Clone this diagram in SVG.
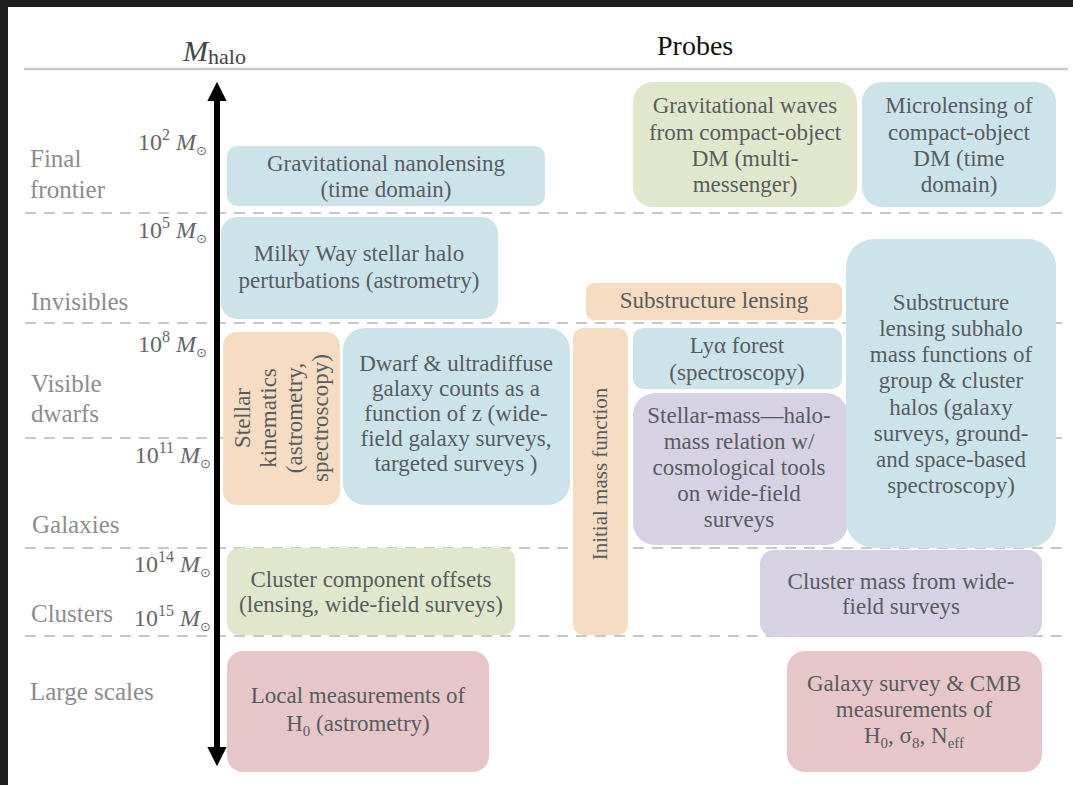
<svg xmlns="http://www.w3.org/2000/svg" width="1073" height="785" viewBox="0 0 1073 785" font-family="Liberation Serif, serif">
<defs>
<style>
.bt{font-size:23px;fill:#575d5f;text-anchor:middle}
.lab{font-size:25px;fill:#8c8c8c}
.ms{font-size:24px;fill:#666;text-anchor:end}
.sup{font-size:16px}
.sun{font-size:13px}
.dash{stroke:#c8c8c8;stroke-width:2;stroke-dasharray:11 8;fill:none}
.blue{fill:#cde3ea}
.orange{fill:#f5dcc3}
.green{fill:#e1e7cc}
.purple{fill:#d7d1e4}
.pink{fill:#e6c6c9}
</style>
<marker id="ah" viewBox="0 0 10 10" refX="0" refY="5" markerWidth="3.2" markerHeight="3.2" orient="auto-start-reverse" markerUnits="strokeWidth">
<path d="M0,0 L10,5 L0,10 z" fill="#000"/>
</marker>
</defs>
<rect x="0" y="0" width="1073" height="785" fill="#fff"/>
<rect x="0" y="0" width="1073" height="7" fill="#1f1f1f"/>
<rect x="0" y="0" width="8" height="785" fill="#1f1f1f"/>

<g id="header">
<text x="183" y="61" font-size="30" font-style="italic" fill="#444">M<tspan font-style="normal" font-size="22" dy="3">halo</tspan></text>
<text x="657" y="55" font-size="28" fill="#111">Probes</text>
<line x1="24" y1="69" x2="1068" y2="69" stroke="#c8c8c8" stroke-width="2.5"/>
</g>

<g id="gridlines">
<line class="dash" x1="25" y1="213" x2="1068" y2="213"/>
<line class="dash" x1="25" y1="323" x2="1068" y2="323"/>
<line class="dash" x1="25" y1="438" x2="1068" y2="438"/>
<line class="dash" x1="25" y1="548" x2="1068" y2="548"/>
<line class="dash" x1="25" y1="636" x2="1068" y2="636"/>
</g>

<g id="scale-labels">
<text class="lab" x="30" y="167">Final</text>
<text class="lab" x="30" y="198">frontier</text>
<text class="lab" x="31" y="310">Invisibles</text>
<text class="lab" x="31" y="392">Visible</text>
<text class="lab" x="31" y="422">dwarfs</text>
<text class="lab" x="32" y="533">Galaxies</text>
<text class="lab" x="31" y="622">Clusters</text>
<text class="lab" x="30" y="700">Large scales</text>
</g>

<g id="mass-labels">
<text class="ms" x="207" y="150">10<tspan class="sup" dy="-10">2</tspan><tspan dy="10"> </tspan><tspan font-style="italic">M</tspan><tspan class="sun" font-family="DejaVu Sans, sans-serif" dy="5">⊙</tspan></text>
<text class="ms" x="207" y="238">10<tspan class="sup" dy="-10">5</tspan><tspan dy="10"> </tspan><tspan font-style="italic">M</tspan><tspan class="sun" font-family="DejaVu Sans, sans-serif" dy="5">⊙</tspan></text>
<text class="ms" x="207" y="352">10<tspan class="sup" dy="-10">8</tspan><tspan dy="10"> </tspan><tspan font-style="italic">M</tspan><tspan class="sun" font-family="DejaVu Sans, sans-serif" dy="5">⊙</tspan></text>
<text class="ms" x="211" y="463">10<tspan class="sup" dy="-10">11</tspan><tspan dy="10"> </tspan><tspan font-style="italic">M</tspan><tspan class="sun" font-family="DejaVu Sans, sans-serif" dy="5">⊙</tspan></text>
<text class="ms" x="211" y="572">10<tspan class="sup" dy="-10">14</tspan><tspan dy="10"> </tspan><tspan font-style="italic">M</tspan><tspan class="sun" font-family="DejaVu Sans, sans-serif" dy="5">⊙</tspan></text>
<text class="ms" x="211" y="626">10<tspan class="sup" dy="-10">15</tspan><tspan dy="10"> </tspan><tspan font-style="italic">M</tspan><tspan class="sun" font-family="DejaVu Sans, sans-serif" dy="5">⊙</tspan></text>
</g>

<g id="connectors">
<line x1="217" y1="101" x2="217" y2="747" stroke="#000" stroke-width="6" marker-start="url(#ah)" marker-end="url(#ah)"/>
</g>

<g id="boxes">
<g id="nanolensing">
<rect class="blue" x="227" y="146" width="318" height="60" rx="10"/>
<text class="bt"><tspan x="386" y="171">Gravitational nanolensing</tspan><tspan x="386" y="197">(time domain)</tspan></text>
</g>

<g id="milkyway">
<rect class="blue" x="221" y="217" width="277" height="102" rx="16"/>
<text class="bt"><tspan x="359" y="261">Milky Way stellar halo</tspan><tspan x="359" y="288">perturbations (astrometry)</tspan></text>
</g>

<g id="stellar-kinematics">
<rect class="orange" x="223" y="332" width="117" height="173" rx="14"/>
<text class="bt" transform="translate(281,418) rotate(-90)"><tspan x="0" y="-31">Stellar</tspan><tspan x="0" y="-5">kinematics</tspan><tspan x="0" y="21">(astrometry,</tspan><tspan x="0" y="47">spectroscopy)</tspan></text>
</g>

<g id="dwarf">
<rect class="blue" x="343" y="328" width="227" height="177" rx="22"/>
<text class="bt"><tspan x="456" y="371">Dwarf &amp; ultradiffuse</tspan><tspan x="456" y="396">galaxy counts as a</tspan><tspan x="456" y="421">function of z (wide-</tspan><tspan x="456" y="446">field galaxy surveys,</tspan><tspan x="456" y="471">targeted surveys )</tspan></text>
</g>

<g id="substructure-lensing">
<rect class="orange" x="586" y="283" width="256" height="37" rx="8"/>
<text class="bt" x="714" y="308">Substructure lensing</text>
</g>

<g id="imf">
<rect class="orange" x="573" y="328" width="55" height="307" rx="10"/>
<text class="bt" style="font-size:21px" transform="translate(600,474) rotate(-90)" x="0" y="7">Initial mass function</text>
</g>

<g id="lya">
<rect class="blue" x="633" y="328" width="209" height="61" rx="10"/>
<text class="bt"><tspan x="737" y="353">Lyα forest</tspan><tspan x="737" y="380">(spectroscopy)</tspan></text>
</g>

<g id="smhm">
<rect class="purple" x="633" y="393" width="215" height="152" rx="22"/>
<text class="bt"><tspan x="739" y="423">Stellar-mass—halo-</tspan><tspan x="739" y="449">mass relation w/</tspan><tspan x="739" y="475">cosmological tools</tspan><tspan x="739" y="501">on wide-field</tspan><tspan x="739" y="527">surveys</tspan></text>
</g>

<g id="subhalo">
<rect class="blue" x="846" y="239" width="210" height="309" rx="28"/>
<text class="bt"><tspan x="951" y="310">Substructure</tspan><tspan x="951" y="336">lensing subhalo</tspan><tspan x="951" y="362">mass functions of</tspan><tspan x="951" y="388">group &amp; cluster</tspan><tspan x="951" y="415">halos (galaxy</tspan><tspan x="951" y="441">surveys, ground-</tspan><tspan x="951" y="467">and space-based</tspan><tspan x="951" y="493">spectroscopy)</tspan></text>
</g>

<g id="gw">
<rect class="green" x="633" y="82" width="224" height="125" rx="20"/>
<text class="bt"><tspan x="745" y="113">Gravitational waves</tspan><tspan x="745" y="140">from compact-object</tspan><tspan x="745" y="166">DM (multi-</tspan><tspan x="745" y="192">messenger)</tspan></text>
</g>

<g id="microlensing">
<rect class="blue" x="862" y="82" width="194" height="125" rx="20"/>
<text class="bt"><tspan x="959" y="113">Microlensing of</tspan><tspan x="959" y="140">compact-object</tspan><tspan x="959" y="166">DM (time</tspan><tspan x="959" y="192">domain)</tspan></text>
</g>

<g id="cluster-offsets">
<rect class="green" x="227" y="548" width="288" height="87" rx="12"/>
<text class="bt"><tspan x="371" y="587">Cluster component offsets</tspan><tspan x="371" y="612">(lensing, wide-field surveys)</tspan></text>
</g>

<g id="cluster-mass">
<rect class="purple" x="760" y="550" width="282" height="87" rx="14"/>
<text class="bt"><tspan x="901" y="589">Cluster mass from wide-</tspan><tspan x="901" y="614">field surveys</tspan></text>
</g>

<g id="local-h0">
<rect class="pink" x="227" y="651" width="262" height="121" rx="16"/>
<text class="bt"><tspan x="358" y="703">Local measurements of</tspan><tspan x="358" y="731">H<tspan style="font-size:15px" dy="5">0</tspan><tspan dy="-5"> (astrometry)</tspan></tspan></text>
</g>

<g id="cmb">
<rect class="pink" x="787" y="651" width="255" height="121" rx="18"/>
<text class="bt"><tspan x="914" y="691">Galaxy survey &amp; CMB</tspan><tspan x="914" y="717">measurements of</tspan><tspan x="914" y="743">H<tspan style="font-size:15px" dy="5">0</tspan><tspan dy="-5">, σ</tspan><tspan style="font-size:15px" dy="5">8</tspan><tspan dy="-5">, N</tspan><tspan style="font-size:15px" dy="5">eff</tspan></tspan></text>
</g>
</g>
</svg>
